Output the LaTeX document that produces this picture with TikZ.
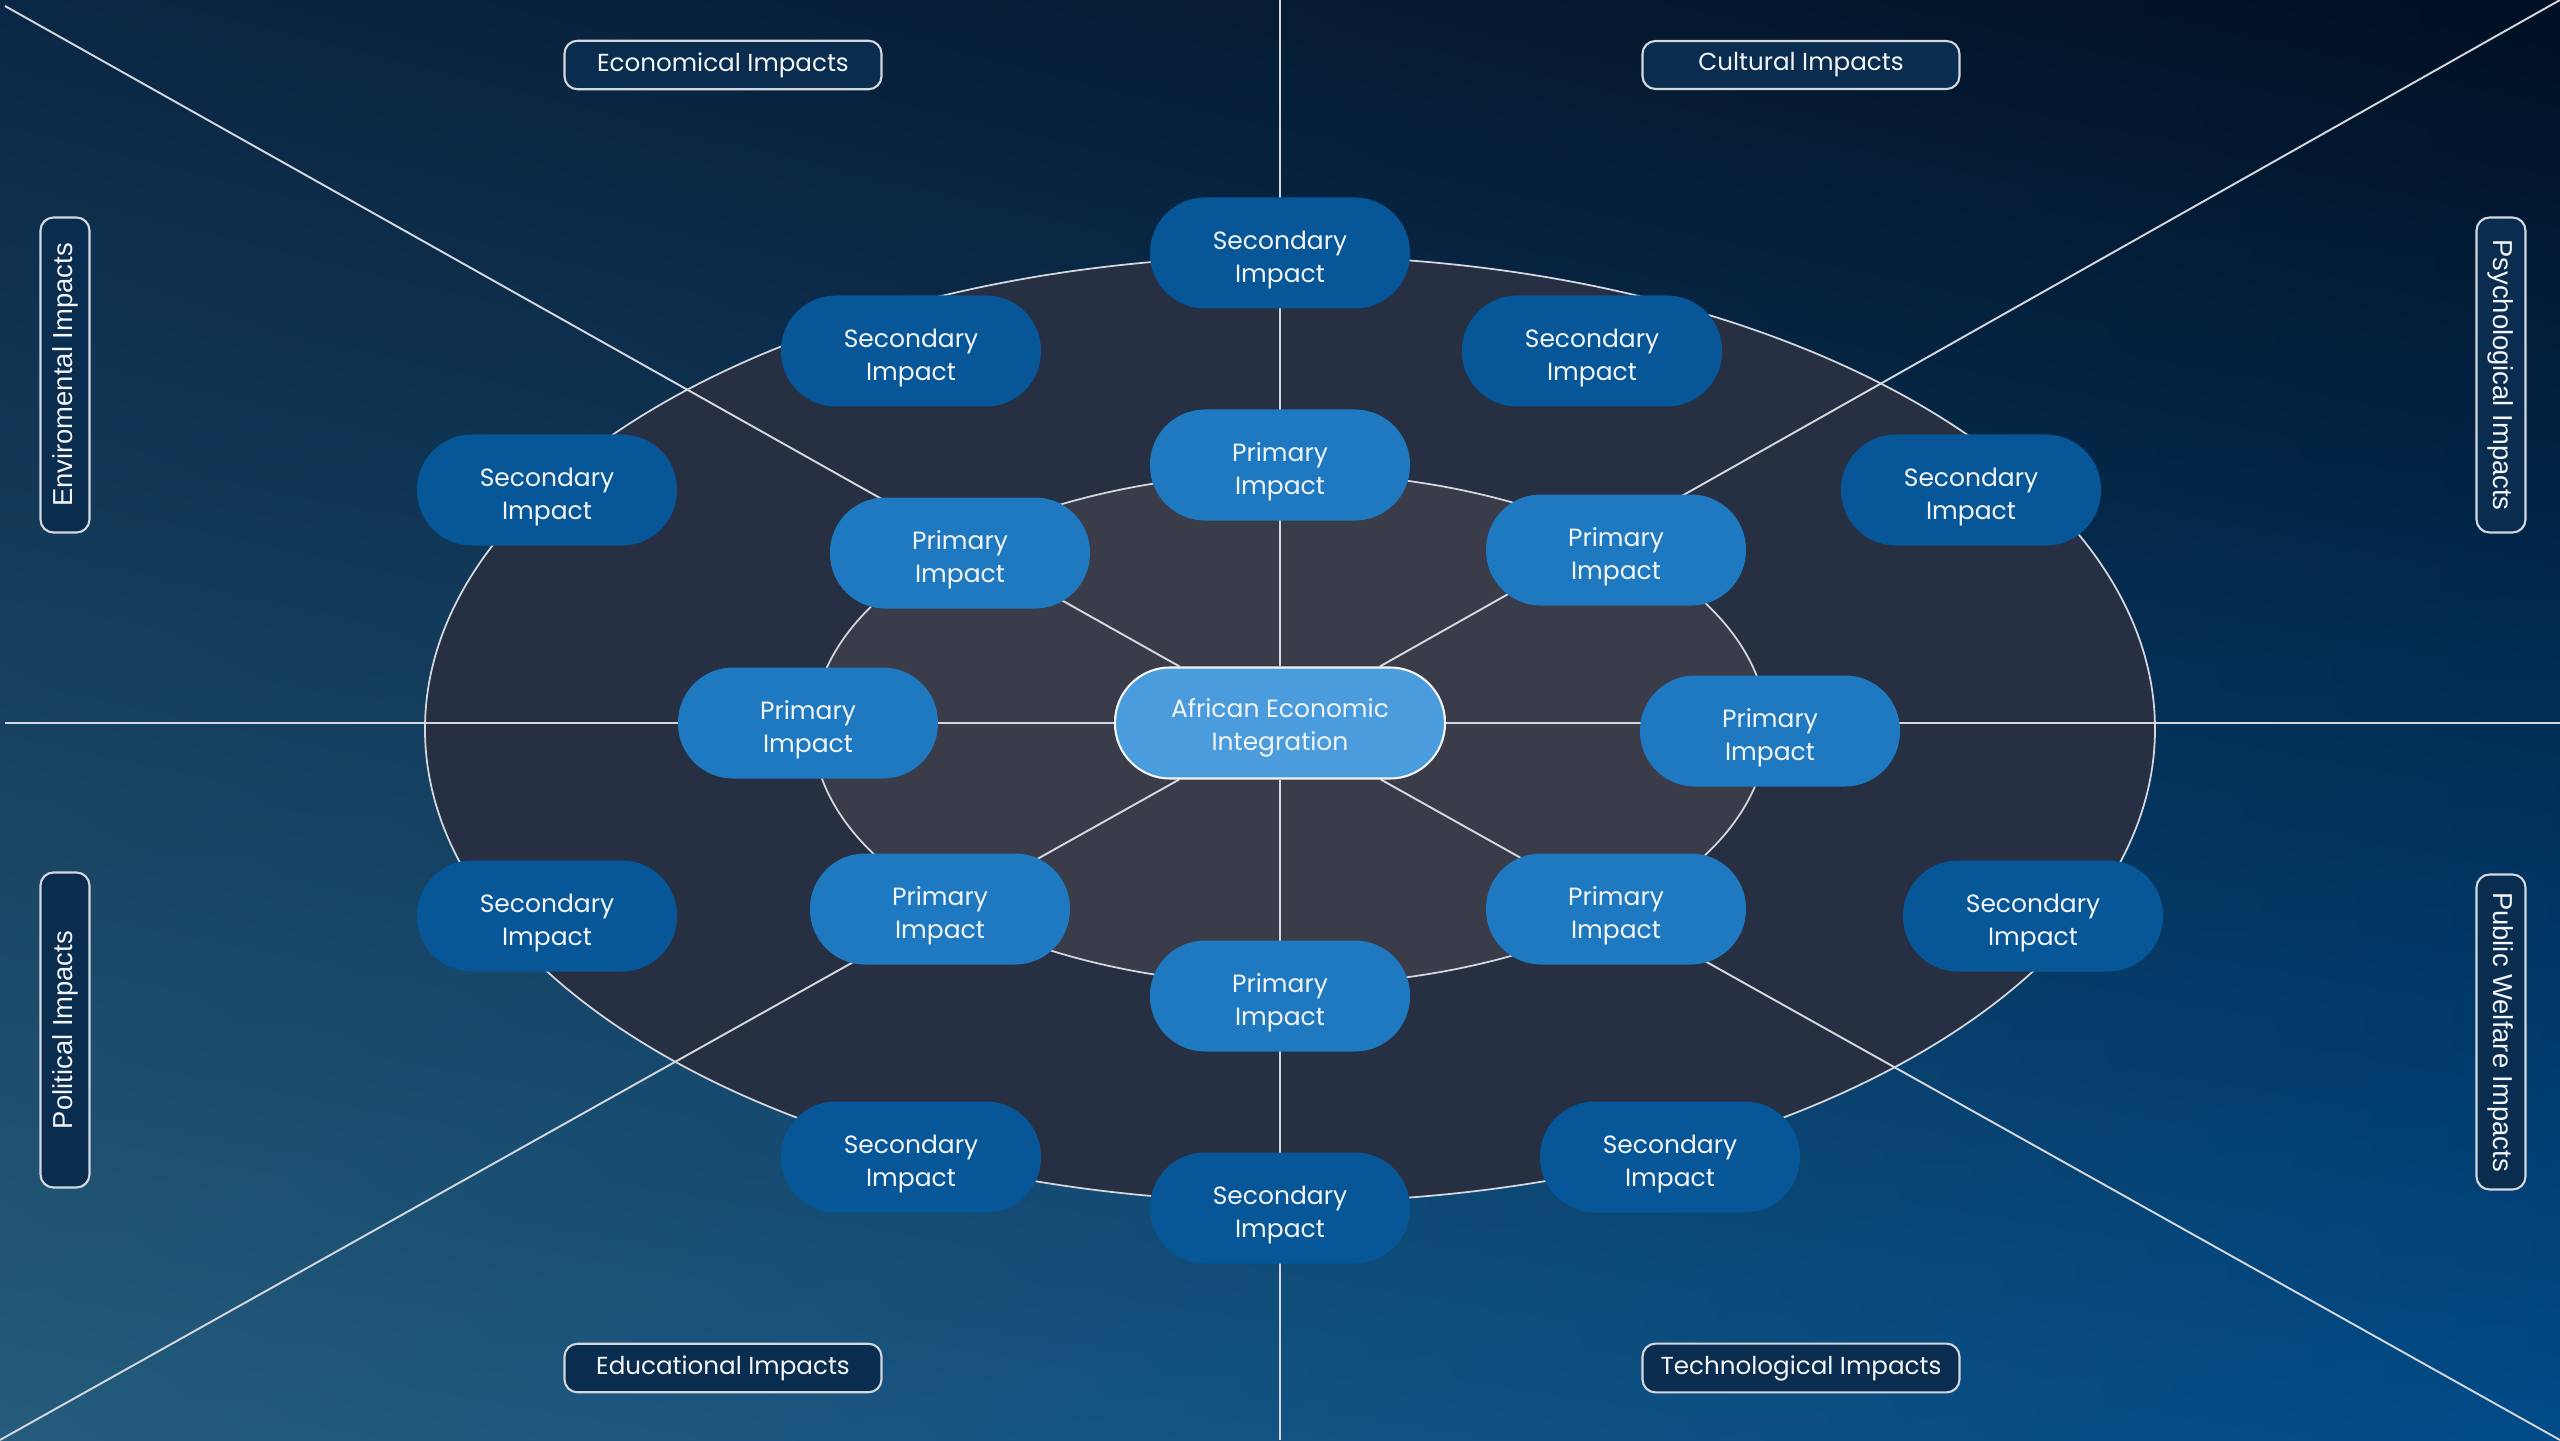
\documentclass[tikz,border=0pt]{standalone}
\usepackage{fontspec}
\setmainfont{Poppins}
\newfontfamily\sidefont{Liberation Sans}
\usepackage{xcolor}
\definecolor{bgTopLeft}{HTML}{0A2745}
\definecolor{bgTopRight}{HTML}{010F22}
\definecolor{bgBottomLeft}{HTML}{255B7B}
\definecolor{bgBottomRight}{HTML}{004B88}
\definecolor{ringOuter}{HTML}{263042}
\definecolor{ringInner}{HTML}{3A3C4A}
\definecolor{hubFill}{HTML}{4A9CDC}
\definecolor{primFill}{HTML}{1F79C0}
\definecolor{secFill}{HTML}{075697}
\definecolor{tagFill}{HTML}{0A2D4F}
\definecolor{lineGray}{HTML}{D4D8DE}
\definecolor{textLight}{HTML}{F2F4F7}
\usetikzlibrary{positioning,backgrounds,shadings}
% two centred lines, lowered a little inside the pill
\newcommand{\pill}[2][1.9pt]{\raisebox{-#1}[\height][\depth]{\begin{tabular}{@{}c@{}}#2\end{tabular}}}
\tikzset{
    hubnode/.style={
        draw=textLight,
        fill=hubFill,
        rectangle,
        rounded corners=5.5mm,
        minimum height=1.11cm,
        minimum width=3.3cm,
        line width=0.6pt,
        text=textLight,
        font=\fontsize{7.1}{9.3}\selectfont
    },
    primary/.style={
        fill=primFill,
        rectangle,
        rounded corners=5.5mm,
        minimum height=1.11cm,
        minimum width=2.6cm,
        text=textLight,
        font=\fontsize{7.1}{9.3}\selectfont
    },
    secondary/.style={
        primary,
        fill=secFill
    },
    tag/.style={
        draw=lineGray,
        fill=tagFill,
        rectangle,
        rounded corners=1.3mm,
        align=center,
        minimum height=0.46cm,
        minimum width=3.17cm,
        line width=0.6pt,
        text=textLight,
        font=\fontsize{7}{9}\selectfont
    },
    sidetag/.style={
        tag,
        minimum width=3.15cm,
        font=\sidefont\fontsize{7.8}{9}\selectfont
    },
    spoke/.style={
        draw=lineGray,
        line width=0.55pt
    },
    ring/.style={
        draw=lineGray,
        line width=0.5pt
    }
}
\begin{document}
\begin{tikzpicture}
    \useasboundingbox (-12.8,-7.17) rectangle (12.8,7.23);

    % hub and first ring
    \node[hubnode] (hub) at (0,0) {\pill[1.2pt]{African Economic\\Integration}};
    \node[primary] (p1) at (0,2.58) {\pill{Primary\\Impact}};
    \node[primary] (p2) at (-3.2,1.70) {\pill{Primary\\Impact}};
    \node[primary] (p3) at (3.36,1.73) {\pill{Primary\\Impact}};
    \node[primary] (p4) at (-4.72,0) {\pill{Primary\\Impact}};
    \node[primary] (p5) at (4.9,-0.08) {\pill{Primary\\Impact}};
    \node[primary] (p6) at (-3.4,-1.86) {\pill{Primary\\Impact}};
    \node[primary] (p7) at (3.36,-1.86) {\pill{Primary\\Impact}};
    \node[primary] (p8) at (0,-2.73) {\pill{Primary\\Impact}};

    % second ring
    \node[secondary] (s1) at (0,4.70) {\pill{Secondary\\Impact}};
    \node[secondary] (s2) at (-3.69,3.72) {\pill{Secondary\\Impact}};
    \node[secondary] (s3) at (3.12,3.72) {\pill{Secondary\\Impact}};
    \node[secondary] (s4) at (-7.33,2.33) {\pill{Secondary\\Impact}};
    \node[secondary] (s5) at (6.91,2.33) {\pill{Secondary\\Impact}};
    \node[secondary] (s6) at (-7.33,-1.93) {\pill{Secondary\\Impact}};
    \node[secondary] (s7) at (7.53,-1.93) {\pill{Secondary\\Impact}};
    \node[secondary] (s8) at (-3.69,-4.34) {\pill{Secondary\\Impact}};
    \node[secondary] (s9) at (3.9,-4.34) {\pill{Secondary\\Impact}};
    \node[secondary] (s10) at (0,-4.85) {\pill{Secondary\\Impact}};

    % impact categories
    \node[tag] (econ) at (-5.57,6.58) {Economical Impacts};
    \node[tag] (cult) at (5.21,6.58) {Cultural Impacts};
    \node[tag] (edu) at (-5.57,-6.45) {Educational Impacts};
    \node[tag] (tech) at (5.21,-6.45) {Technological Impacts};
    \node[sidetag, rotate=90] (env) at (-12.15,3.48) {Enviromental Impacts};
    \node[sidetag, rotate=90] (pol) at (-12.15,-3.07) {Political Impacts};
    \node[sidetag, rotate=-90] (psy) at (12.21,3.48) {Psychological Impacts};
    \node[sidetag, rotate=-90] (pub) at (12.21,-3.09) {Public Welfare Impacts};

    % frame points for the spokes
    \coordinate (tl) at (-12.75,7.17);
    \coordinate (tc) at (0,7.23);
    \coordinate (tr) at (12.8,7.23);
    \coordinate (ml) at (-12.75,0);
    \coordinate (mr) at (12.8,0);
    \coordinate (bl) at (-12.8,-7.17);
    \coordinate (bc) at (0,-7.17);
    \coordinate (br) at (12.8,-7.17);

    \begin{scope}[on background layer]
        \shade[upper left=bgTopLeft, upper right=bgTopRight,
               lower left=bgBottomLeft, lower right=bgBottomRight]
            (-12.8,-7.17) rectangle (12.8,7.23);
        \draw[ring, fill=ringOuter] (0.1,-0.06) ellipse (8.65cm and 4.73cm);
        \draw[ring, fill=ringInner] (0.1,-0.06) ellipse (4.77cm and 2.56cm);
        \foreach \c in {tl,tc,tr,ml,mr,bl,bc,br}
            \draw[spoke] (\c) -- (hub);
    \end{scope}
\end{tikzpicture}
\end{document}
